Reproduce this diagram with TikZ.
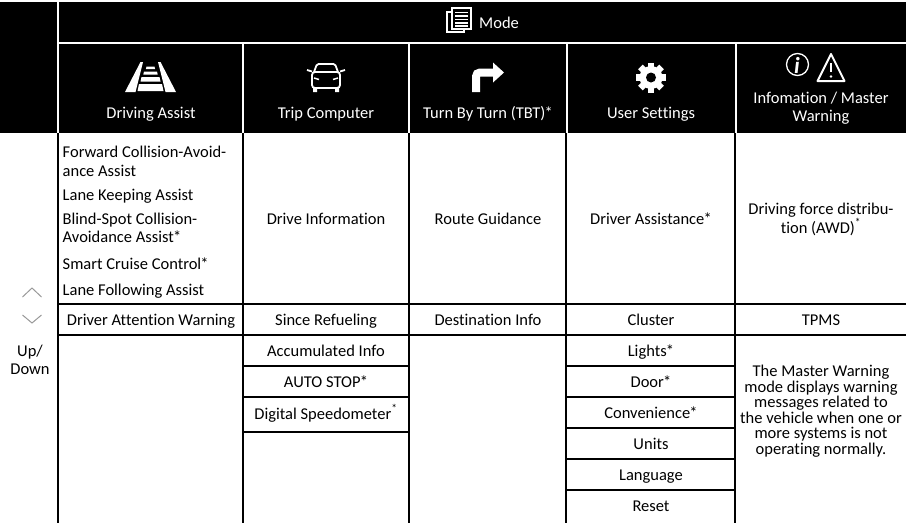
\documentclass[tikz,border=0pt]{standalone}
\usepackage{fontspec}
\setmainfont{Carlito}[Ligatures={NoCommon,NoDiscretionary,NoRare}]
\usetikzlibrary{positioning,calc}
\newcommand{\mstar}{\kern-0.8pt*}

\begin{document}
\begin{tikzpicture}[x=1pt, y=-1pt,
   cell/.style={anchor=base, inner sep=0pt, font=\fontsize{16.5}{18}\selectfont},
   item/.style={cell, anchor=base west},
   head/.style={cell, text=white},
   grid/.style={black, line width=2pt},
   wgrid/.style={white, line width=1.8pt},
   icon/.style={white, line width=1.5pt},
   chev/.style={gray!80, line width=1pt}]
   \useasboundingbox (0,0) rectangle (908,523);

   % Header band
   \fill[black] (0,2) rectangle (906,133);
   \draw[wgrid] (58,2) -- (58,133);
   \draw[wgrid] (58,43) -- (906,43);
   \foreach \x in {243,409,567,736}
      \draw[wgrid] (\x,43) -- (\x,133);

   % Mode
   \begin{scope}[shift={(459,20)}]
       \draw[icon, line width=1.2pt] (-12,-8) rectangle (5,12);
       \filldraw[icon, line width=1.2pt, fill=black] (-7,-12) rectangle (12,9);
       \foreach \y in {-7.5,-4,-0.5,3,6}
          \draw[icon, line width=1.2pt] (-4,\y) -- (9,\y);
   \end{scope}
   \node (mode) at (479,28.5) [head, anchor=base west] {Mode};

   % Driving Assist
   \begin{scope}[shift={(150.5,77)}]
       \fill[white] (-25.5,15) -- (-15,15) -- (-7.5,-15) -- (-10,-15) -- cycle;
       \fill[white] (25.5,15) -- (15,15) -- (7.5,-15) -- (10,-15) -- cycle;
       \fill[white] (-4,-10.5) -- (4,-10.5) -- (4.6,-8) -- (-4.6,-8) -- cycle;
       \fill[white] (-6.5,-5.5) -- (6.5,-5.5) -- (7.2,-2.5) -- (-7.2,-2.5) -- cycle;
       \fill[white] (-9,0) -- (9,0) -- (10,4.5) -- (-10,4.5) -- cycle;
       \fill[white] (-11.5,7) -- (11.5,7) -- (13,14) -- (-13,14) -- cycle;
   \end{scope}
   \node (da) at (151,118) [head] {Driving Assist};

   % Trip Computer
   \begin{scope}[shift={(326,78)}]
       \draw[icon, line width=1.8pt, rounded corners=1.5pt] (-12,-6) -- (-9,-14) -- (9,-14) -- (12,-6);
       \draw[icon, line width=1.8pt, rounded corners=3pt] (-14,-6) rectangle (14,10);
       \draw[icon, line width=1.8pt] (-19,-8) -- (-14,-6.5) (14,-6.5) -- (19,-8);
       \draw[icon] (-12,0) -- (-7,1.5) (12,0) -- (7,1.5);
       \fill[white] (-13,10) rectangle (-9,14) (9,10) rectangle (13,14);
   \end{scope}
   \node (tc) at (326,118) [head] {Trip Computer};

   % Turn By Turn
   \begin{scope}[shift={(488,77)}]
       \draw[white, line width=8pt, rounded corners=4pt] (-12,15) -- (-12,-4.5) -- (6,-4.5);
       \fill[white] (5,-14.5) -- (16,-4.5) -- (5,5.5) -- cycle;
   \end{scope}
   \node (tbt) at (488,118) [head] {Turn By Turn (TBT)\mstar};

   % User Settings
   \begin{scope}[shift={(651,77.5)}]
       \fill[white] (0,0) circle (11.5);
       \foreach \a in {0,45,...,315}
          \fill[white, rotate=\a] (-3.2,-15) rectangle (3.2,-9);
       \fill[black] (0,0) circle (5);
   \end{scope}
   \node (us) at (651,118) [head] {User Settings};

   % Information / Master Warning
   \draw[icon, line width=1.3pt] (797.5,64.5) circle (11);
   \node (info-i) at (797,65) [text=white, inner sep=0pt,
      font=\fontsize{23}{23}\selectfont\bfseries\itshape] {i};
   \draw[white, line width=2pt, line join=round] (817.5,81) -- (831,54) -- (844.5,81) -- cycle;
   \draw[white, line width=2pt] (831,63) -- (831,72);
   \fill[white] (831,76.5) circle (1.3);
   \node (im1) at (821,103) [head] {Infomation / Master};
   \node (im2) at (821,121) [head] {Warning};

   % Table grid
   \foreach \x in {58,243,409,566,735}
      \draw[grid] (\x,133) -- (\x,523);
   \draw[grid] (58,304) -- (906,304);
   \draw[grid] (58,335) -- (906,335);
   \foreach \y in {366,397,432}
      \draw[grid] (243,\y) -- (409,\y);
   \foreach \y in {366,397,428,459,490}
      \draw[grid] (566,\y) -- (735,\y);

   % Up / Down
   \draw[chev] (22.5,297) -- (32,288) -- (41.5,297);
   \draw[chev] (22.5,315) -- (32,323) -- (41.5,315);
   \node (up) at (30,356.5) [cell] {Up/};
   \node (down) at (30,374.5) [cell] {Down};

   % Driving Assist column
   \node (fca1) at (62.5,157.5) [item] {Forward Collision-Avoid-};
   \node (fca2) at (62.5,176) [item] {ance Assist};
   \node (lka) at (62.5,200) [item] {Lane Keeping Assist};
   \node (bca1) at (62.5,224) [item] {Blind-Spot Collision-};
   \node (bca2) at (62.5,242.5) [item] {Avoidance Assist\mstar};
   \node (scc) at (62.5,269.5) [item] {Smart Cruise Control\mstar};
   \node (lfa) at (62.5,295) [item] {Lane Following Assist};
   \node (daw) at (151,325) [cell] {Driver Attention Warning};

   % Trip Computer column
   \node (drv) at (326,224.5) [cell] {Drive Information};
   \node (ref) at (326,325) [cell] {Since Refueling};
   \node (acc) at (326,356) [cell] {Accumulated Info};
   \node (stop) at (326,387) [cell] {AUTO STOP\mstar};
   \node (spd) at (326,419) [cell] {Digital Speedometer\textsuperscript{*}};

   % Turn By Turn column
   \node (rg) at (488,224.5) [cell] {Route Guidance};
   \node (dst) at (488,325) [cell] {Destination Info};

   % User Settings column
   \node (das) at (651,224.5) [cell] {Driver Assistance\mstar};
   \node (clu) at (651,325) [cell] {Cluster};
   \node (lgt) at (651,356) [cell] {Lights\mstar};
   \node (door) at (651,387) [cell] {Door\mstar};
   \node (conv) at (651,418) [cell] {Convenience\mstar};
   \node (unit) at (651,449) [cell] {Units};
   \node (lang) at (651,480) [cell] {Language};
   \node (rst) at (651,511) [cell] {Reset};

   % Information / Master Warning column
   \node (awd1) at (821,214) [cell] {Driving force distribu-};
   \node (awd2) at (821,233) [cell] {tion (AWD)\textsuperscript{*}};
   \node (tpms) at (821,325) [cell] {TPMS};
   \node (mw) at (821,411) [cell, anchor=center, align=center,
      font=\fontsize{16.5}{15.5}\selectfont] {The Master Warning\\mode displays warning\\messages related to\\the vehicle when one or\\more systems is not\\operating normally.};

\end{tikzpicture}
\end{document}
